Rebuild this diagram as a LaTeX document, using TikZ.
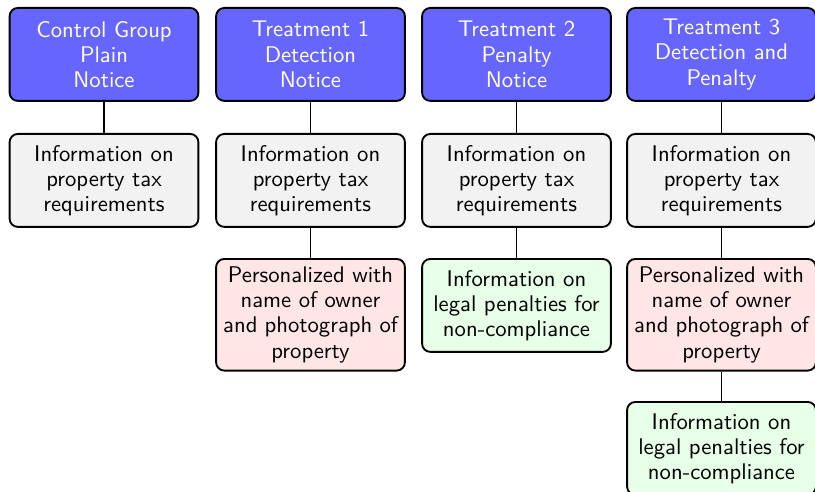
\documentclass[tikz,border=0pt]{standalone}
\usepackage{tikz}
\definecolor{topblue}{HTML}{6666FF}
\definecolor{infogray}{HTML}{F2F2F2}
\definecolor{perspink}{HTML}{FFE6E6}
\definecolor{penalgreen}{HTML}{E6FFE6}
\begin{document}
\begin{tikzpicture}[x=0.4808pt, y=-0.4808pt,
  basebox/.style={draw=black, line width=0.9pt, rounded corners=4pt, anchor=north,
    text width=84pt, align=flush center, inner xsep=3.4pt, inner ysep=3.8pt,
    minimum height=44.7pt, font=\sffamily\fontsize{10.9}{12.1}\selectfont},
  headbox/.style={basebox, fill=topblue, text=white},
  infobox/.style={basebox, fill=infogray},
  persbox/.style={basebox, fill=perspink},
  penbox/.style={basebox, fill=penalgreen},
  link/.style={draw=black, line width=0.9pt}]
\useasboundingbox (0,0) rectangle (815,492);
% row 1
\node[headbox] (h1) at (104,7) {Control Group\\Plain\\Notice};
\node[headbox] (h2) at (310.5,7) {Treatment 1\\Detection\\Notice};
\node[headbox] (h3) at (516.5,7) {Treatment 2\\Penalty\\Notice};
\node[headbox] (h4) at (721.5,7) {Treatment 3\\Detection and\\Penalty};
% row 2
\node[infobox] (i1) at (104,133) {Information on property tax requirements};
\node[infobox] (i2) at (310.5,133) {Information on property tax requirements};
\node[infobox] (i3) at (516.5,133) {Information on property tax requirements};
\node[infobox] (i4) at (721.5,133) {Information on property tax requirements};
% row 3
\node[persbox] (p2) at (310.5,258) {Personalized with name of owner and photograph of property};
\node[penbox] (g3) at (516.5,258) {Information on legal penalties for non-compliance};
\node[persbox] (p4) at (721.5,258) {Personalized with name of owner and photograph of property};
% row 4
\node[penbox] (g4) at (721.5,401) {Information on legal penalties for non-compliance};
% connectors
\draw[link] (h1.south) -- (i1.north);
\draw[link] (h2.south) -- (i2.north);
\draw[link] (h3.south) -- (i3.north);
\draw[link] (h4.south) -- (i4.north);
\draw[link] (i2.south) -- (p2.north);
\draw[link] (i3.south) -- (g3.north);
\draw[link] (i4.south) -- (p4.north);
\draw[link] (p4.south) -- (g4.north);
\end{tikzpicture}
\end{document}
